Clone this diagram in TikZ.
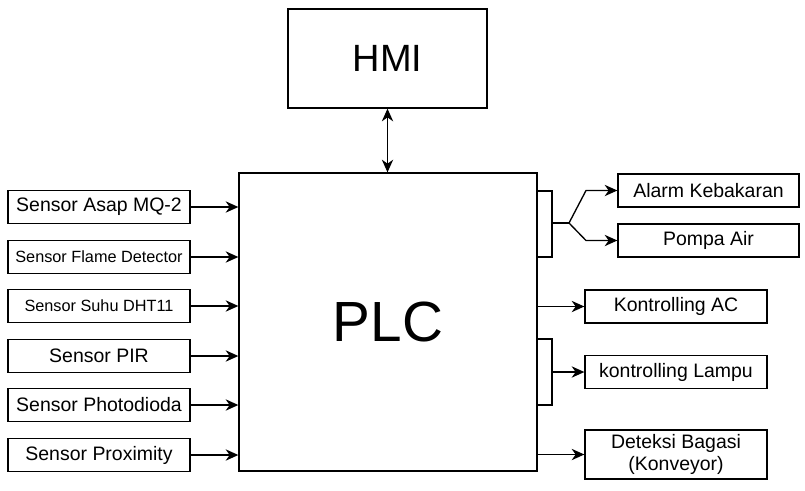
\documentclass[tikz,border=0pt]{standalone}
\usepackage{fontspec}
\setmainfont{Liberation Sans}
\usetikzlibrary{arrows.meta}
\begin{document}
\begin{tikzpicture}[x=0.75pt,y=0.75pt]
\tikzstyle{every node}+=[inner sep=0pt]
\tikzstyle{box}=[draw=black, line width=1pt, minimum width=136.5pt, minimum height=24.75pt, align=center, font=\fontsize{14.6}{16.5}\selectfont]
\tikzstyle{small}=[font=\fontsize{12.2}{14}\selectfont]
\tikzstyle{wire}=[black, line width=1pt]
\tikzstyle{arr}=[wire, -{Stealth[length=9.5pt,width=8.5pt,inset=3pt]}]
\useasboundingbox (0,0) rectangle (805,-490);
\node [draw=black, line width=1pt, minimum width=149.25pt, minimum height=74.25pt, font=\fontsize{28.5}{30}\selectfont] (hmi) at (387.5,-58.5) {HMI};
\node [draw=black, line width=1pt, minimum width=223.5pt, minimum height=223.5pt, font=\fontsize{42.5}{45}\selectfont] (plc) at (388,-322) {PLC};
\node [box] (asap) at (99,-207) {Sensor Asap MQ-2};
\node [box, small] (flame) at (99,-257) {Sensor Flame Detector};
\node [box, small] (suhu) at (99,-306) {Sensor Suhu DHT11};
\node [box] (pir) at (99,-356) {Sensor PIR};
\node [box] (photo) at (99,-405) {Sensor Photodioda};
\node [box] (prox) at (99,-455) {Sensor Proximity};
\node [box, minimum width=135.75pt] (alarm) at (708.5,-190.5) {Alarm Kebakaran};
\node [box, minimum width=135.75pt] (pompa) at (708.5,-240.5) {Pompa Air};
\node [box] (ac) at (676,-306.5) {Kontrolling AC};
\node [box] (lampu) at (676,-372) {kontrolling Lampu};
\node [box, minimum height=36.75pt] (bagasi) at (676,-454.5) {Deteksi Bagasi\\(Konveyor)};
\draw [wire, {Stealth[length=9.5pt,width=8.5pt,inset=3pt]}-{Stealth[length=9.5pt,width=8.5pt,inset=3pt]}] (hmi.south) -- (hmi.south |- plc.north);
\draw [arr] (asap.east) -- (asap.east -| plc.west);
\draw [arr] (flame.east) -- (flame.east -| plc.west);
\draw [arr] (suhu.east) -- (suhu.east -| plc.west);
\draw [arr] (pir.east) -- (pir.east -| plc.west);
\draw [arr] (photo.east) -- (photo.east -| plc.west);
\draw [arr] (prox.east) -- (prox.east -| plc.west);
\coordinate (fork1t) at (552,-191);
\coordinate (fork1b) at (552,-257);
\coordinate (fork1m) at (569,-223);
\coordinate (fork1u) at (586,-190.5);
\coordinate (fork1d) at (586,-240.5);
\draw [wire] (fork1t -| plc.east) -- (fork1t) -- (fork1b) -- (fork1b -| plc.east);
\draw [wire] (fork1t |- fork1m) -- (fork1m);
\draw [arr] (fork1m) -- (fork1u) -- (alarm.west);
\draw [arr] (fork1m) -- (fork1d) -- (pompa.west);
\draw [arr] (ac.west -| plc.east) -- (ac.west);
\coordinate (fork2t) at (552,-339);
\coordinate (fork2b) at (552,-405);
\draw [wire] (fork2t -| plc.east) -- (fork2t) -- (fork2b) -- (fork2b -| plc.east);
\draw [arr] (fork2t |- lampu.west) -- (lampu.west);
\draw [arr] (bagasi.west -| plc.east) -- (bagasi.west);
\end{tikzpicture}
\end{document}
